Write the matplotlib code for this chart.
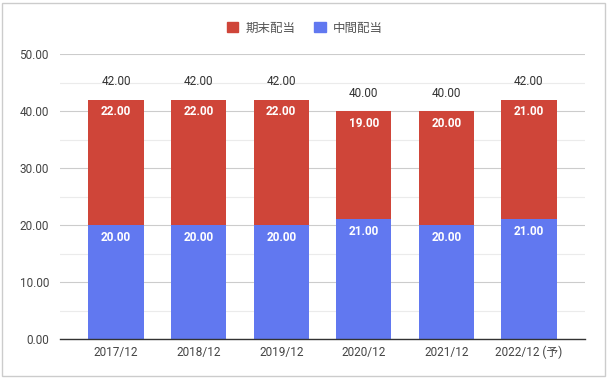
import matplotlib
matplotlib.use("Agg")
import matplotlib.pyplot as plt
from matplotlib.patches import Rectangle, Patch
from matplotlib.ticker import MultipleLocator

plt.rcParams['font.family'] = ['Roboto', 'Noto Sans CJK JP', 'DejaVu Sans']

categories = ["2017/12", "2018/12", "2019/12", "2020/12", "2021/12", "2022/12 (予)"]
interim = [20.0, 20.0, 20.0, 21.0, 20.0, 21.0]
final = [22.0, 22.0, 22.0, 19.0, 20.0, 21.0]
totals = [42.0, 42.0, 42.0, 40.0, 40.0, 42.0]
series_names = ["期末配当", "中間配当"]

red = "#cf4539"
blue = "#6178f0"

fig = plt.figure(figsize=(6.1, 3.8), dpi=100)
ax = fig.add_axes([60/610, 41/380, 525/610, 285/380])

x = list(range(len(categories)))
w = 0.67
ax.bar(x, interim, width=w, color=blue, zorder=3)
ax.bar(x, final, width=w, bottom=interim, color=red, zorder=3)

for i in x:
    ax.annotate(f"{interim[i]:.2f}", (i, interim[i]), xytext=(0, -4), textcoords="offset points",
                ha="center", va="top", color="white", fontsize=8.5, fontweight="bold", zorder=4)
    ax.annotate(f"{final[i]:.2f}", (i, interim[i] + final[i]), xytext=(0, -4), textcoords="offset points",
                ha="center", va="top", color="white", fontsize=8.5, fontweight="bold", zorder=4)
    ax.annotate(f"{totals[i]:.2f}", (i, totals[i]), xytext=(0, 8), textcoords="offset points",
                ha="center", va="bottom", color="#333333", fontsize=8.5, zorder=4)

ax.set_xlim(-0.68, 5.68)
ax.set_ylim(0, 50)
ax.yaxis.set_major_locator(MultipleLocator(10))
ax.yaxis.set_minor_locator(MultipleLocator(5))
ax.yaxis.set_major_formatter(matplotlib.ticker.FuncFormatter(lambda v, p: f"{v:.2f}"))
ax.grid(axis="y", which="major", color="#cccccc", linewidth=0.8, zorder=0)
ax.grid(axis="y", which="minor", color="#ebebeb", linewidth=0.8, zorder=0)
ax.set_xticks(x)
ax.set_xticklabels(categories)
ax.tick_params(axis="both", which="both", length=0, labelsize=8.5, labelcolor="#444444")
ax.tick_params(axis="y", pad=8)
ax.tick_params(axis="x", pad=5)
for s in ["top", "right", "left"]:
    ax.spines[s].set_visible(False)
ax.spines["bottom"].set_color("#333333")
ax.spines["bottom"].set_linewidth(1)
ax.spines["bottom"].set_zorder(5)

handles = [Patch(color=red), Patch(color=blue)]
fig.legend(handles, series_names, loc="center", bbox_to_anchor=(0.5, 1 - 28/380), ncol=2,
           frameon=False, fontsize=9, handlelength=0.9, handleheight=0.9, handletextpad=0.6,
           columnspacing=1.5, labelcolor="#555555")

fig.patches.append(Rectangle((2/610, 4/380), 603/610, 373/380, transform=fig.transFigure,
                             fill=False, edgecolor="#cccccc", linewidth=1))

fig.savefig("out.png", dpi=100)
